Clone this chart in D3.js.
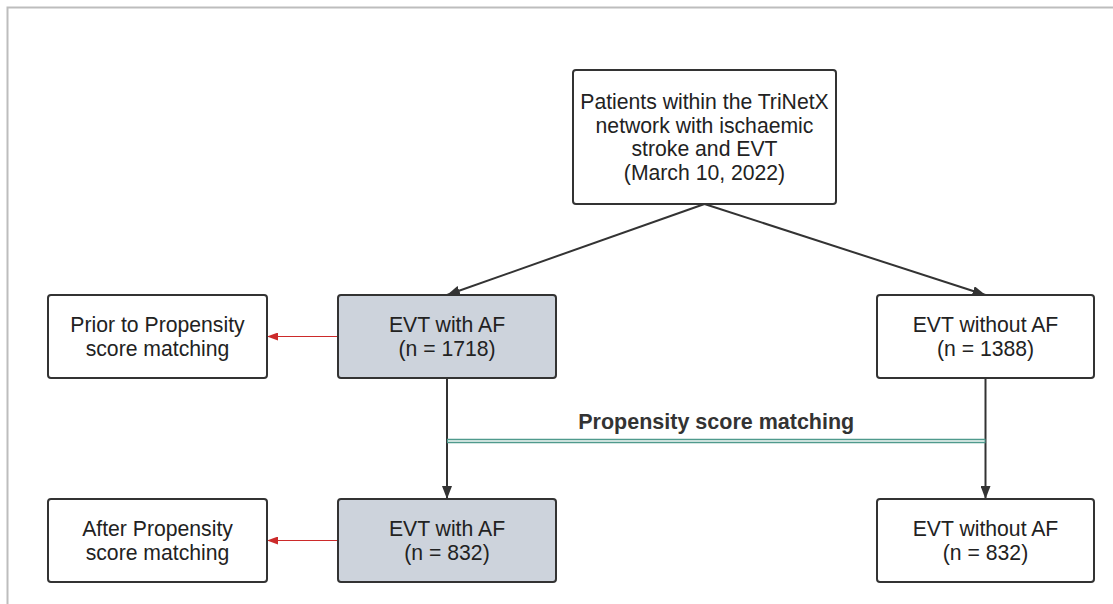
<!DOCTYPE html>
<html>
<head>
<meta charset="utf-8">
<script src="https://cdn.jsdelivr.net/npm/d3@7"></script>
<style>
html,body{margin:0;padding:0;background:#fff;}
svg{display:block;}
</style>
</head>
<body>
<svg id="chart" width="1113" height="604"></svg>
<script>
// ---- data ----
const sourceLines = ["Patients within the TriNetX", "network with ischaemic", "stroke and EVT", "(March 10, 2022)"];
const groups = ["EVT with AF", "EVT without AF"];
const countsBefore = [1718, 1388];
const countsAfter = [832, 832];
const stageLabels = [["Prior to Propensity", "score matching"], ["After Propensity", "score matching"]];
const matchingLabel = "Propensity score matching";

// ---- layout scales ----
const col = d3.scaleOrdinal().domain(["note", "af", "noaf", "src"]).range([157.5, 447, 985.5, 704.5]);
const colW = d3.scaleOrdinal().domain(["note", "af", "noaf", "src"]).range([219, 218, 217, 263]);
const row = d3.scaleOrdinal().domain(["src", "before", "after"]).range([137, 336.5, 540.5]);
const rowH = d3.scaleOrdinal().domain(["src", "before", "after"]).range([134, 83, 83]);

const svg = d3.select("#chart");
const FONT = "'Liberation Sans', Arial, sans-serif";

// frame
svg.append("path").attr("d", "M7.5,604 L7.5,7.5 L1113,7.5")
  .attr("fill", "none").attr("stroke", "#bdbdbd").attr("stroke-width", 2);

const defs = svg.append("defs");
function marker(id, color, w, h) {
  defs.append("marker").attr("id", id).attr("viewBox", `0 0 ${w} ${h}`)
    .attr("refX", w).attr("refY", h / 2).attr("markerWidth", w).attr("markerHeight", h)
    .attr("markerUnits", "userSpaceOnUse").attr("orient", "auto")
    .append("path").attr("d", `M0,0 L${w},${h/2} L0,${h} Z`).attr("fill", color);
}
marker("arrBlack", "#333", 13, 10);
marker("arrRed", "#cc2a2a", 11, 8);

// node list built from data
const nodes = [
  {c: "src", r: "src", lines: sourceLines, fill: "#fff"},
  {c: "note", r: "before", lines: stageLabels[0], fill: "#fff"},
  {c: "af", r: "before", lines: [groups[0], `(n = ${countsBefore[0]})`], fill: "#cdd3dc"},
  {c: "noaf", r: "before", lines: [groups[1], `(n = ${countsBefore[1]})`], fill: "#fff"},
  {c: "note", r: "after", lines: stageLabels[1], fill: "#fff"},
  {c: "af", r: "after", lines: [groups[0], `(n = ${countsAfter[0]})`], fill: "#cdd3dc"},
  {c: "noaf", r: "after", lines: [groups[1], `(n = ${countsAfter[1]})`], fill: "#fff"}
];
const box = n => ({x0: col(n.c) - colW(n.c) / 2, x1: col(n.c) + colW(n.c) / 2,
                   y0: row(n.r) - rowH(n.r) / 2, y1: row(n.r) + rowH(n.r) / 2, cx: col(n.c), cy: row(n.r)});

// connectors
const line = d3.line();
const src = box(nodes[0]);
const links = [
  {pts: [[src.cx, src.y1], [col("af"), box(nodes[2]).y0]], m: "arrBlack", color: "#333", w: 2},
  {pts: [[src.cx, src.y1], [col("noaf"), box(nodes[3]).y0]], m: "arrBlack", color: "#333", w: 2},
  {pts: [[col("af"), box(nodes[2]).y1], [col("af"), box(nodes[5]).y0]], m: "arrBlack", color: "#333", w: 2},
  {pts: [[col("noaf"), box(nodes[3]).y1], [col("noaf"), box(nodes[6]).y0]], m: "arrBlack", color: "#333", w: 2},
  {pts: [[box(nodes[2]).x0, row("before")], [box(nodes[1]).x1, row("before")]], m: "arrRed", color: "#cc2a2a", w: 1},
  {pts: [[box(nodes[5]).x0, row("after")], [box(nodes[4]).x1, row("after")]], m: "arrRed", color: "#cc2a2a", w: 1}
];
svg.append("g").selectAll("path").data(links).join("path")
  .attr("d", d => line(d.pts)).attr("fill", "none")
  .attr("stroke", d => d.color).attr("stroke-width", d => d.w)
  .attr("marker-end", d => `url(#${d.m})`);

// propensity matching double line
const pmY = 441;
svg.append("line").attr("x1", col("af")).attr("x2", col("noaf")).attr("y1", pmY).attr("y2", pmY)
  .attr("stroke", "#4f9a8d").attr("stroke-width", 4.5);
svg.append("line").attr("x1", col("af") + 1).attr("x2", col("noaf") - 1).attr("y1", pmY).attr("y2", pmY)
  .attr("stroke", "#f4f8f7").attr("stroke-width", 1.3);
svg.append("text").attr("x", (col("af") + col("noaf")) / 2).attr("y", 429)
  .attr("text-anchor", "middle").attr("font-family", FONT).attr("font-weight", "bold")
  .attr("font-size", 21.5).attr("fill", "#333").text(matchingLabel);

// boxes
const g = svg.append("g").selectAll("g").data(nodes).join("g");
g.append("rect")
  .attr("x", d => box(d).x0).attr("y", d => box(d).y0)
  .attr("width", d => colW(d.c)).attr("height", d => rowH(d.r))
  .attr("rx", 3).attr("fill", d => d.fill).attr("stroke", "#333").attr("stroke-width", 2);
g.each(function(d) {
  const b = box(d);
  const lh = 23.5;
  d3.select(this).selectAll("text").data(d.lines).join("text")
    .attr("x", b.cx)
    .attr("y", (t, i) => b.cy + (i - (d.lines.length - 1) / 2) * lh)
    .attr("dy", "0.35em").attr("text-anchor", "middle")
    .attr("font-family", FONT).attr("font-size", 21.2).attr("fill", "#222")
    .text(t => t);
});
</script>
</body>
</html>
